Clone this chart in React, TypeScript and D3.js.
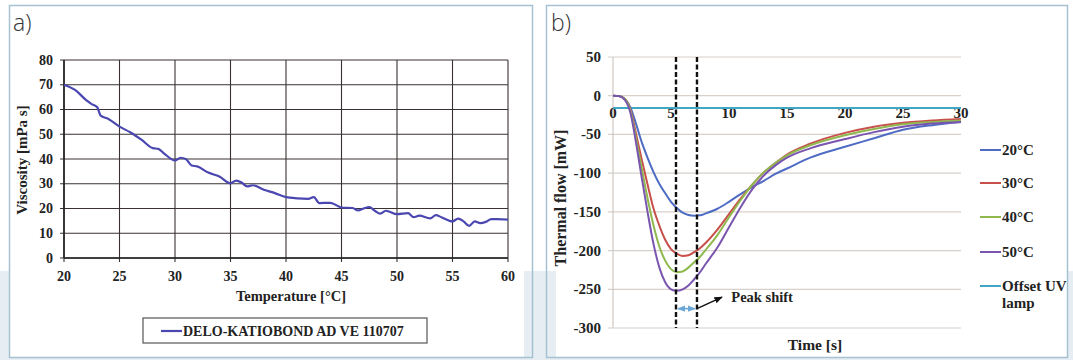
import React from "react";
import * as d3 from "d3";

// panel a: viscosity vs temperature
const viscTemp = [20, 21, 22, 22.5, 23, 23.3, 24, 25, 26, 27, 28, 28.5, 29, 30, 30.5, 31, 31.5, 32, 33, 34, 35, 35.5, 36, 36.5, 37, 38, 39, 40, 41, 42, 42.5, 43, 44, 45, 46, 46.5, 47, 47.5, 48, 48.5, 49, 50, 51, 51.5, 52, 53, 53.5, 54, 55, 55.5, 56, 56.5, 57, 57.5, 58, 58.5, 59, 60];
const viscosity = [70, 67.9, 63.8, 62.2, 60.9, 57.5, 56.2, 53.1, 50.7, 47.7, 44.4, 44.1, 42.3, 39.4, 40.5, 39.9, 37.4, 37, 34.5, 32.9, 30.2, 31.3, 30.5, 28.9, 29.4, 27.6, 26.2, 24.6, 24.1, 23.9, 24.6, 22.2, 22.3, 20.4, 20.2, 19.2, 20, 20.6, 19.1, 17.9, 19.1, 17.7, 18.1, 16.5, 17.1, 16, 17.3, 16.5, 14.8, 15.9, 14.8, 13, 14.8, 14.1, 14.6, 15.7, 15.7, 15.5];
const tempTicks = [20, 25, 30, 35, 40, 45, 50, 55, 60];
const viscTicks = [0, 10, 20, 30, 40, 50, 60, 70, 80];
const viscLegend = "DELO-KATIOBOND AD VE 110707";

// panel b: thermal flow vs time
const time = [0, 0.5, 1, 1.5, 2, 2.5, 3, 3.5, 4, 4.5, 5, 5.5, 6, 6.5, 7, 7.5, 8, 9, 10, 11, 12, 13, 14, 15, 17, 20, 22.5, 25, 27.5, 30];
const flow20 = [0, -0.5, -4, -15, -37, -61, -81, -99, -114, -126, -137, -145, -151, -154, -155, -154.5, -152, -146, -137, -127, -118, -110, -101, -94, -80, -66, -55, -44, -38, -34];
const flow30 = [0, -0.5, -4, -18, -50, -84, -116, -146, -168, -186, -198, -204, -207, -206, -202, -197, -190, -173, -153, -133, -115, -99, -87, -76, -62, -48, -40, -35, -32, -30];
const flow40 = [0, -0.5, -4, -19, -56, -96, -134, -168, -195, -213, -224, -228, -227, -222, -215, -208, -199, -180, -157, -135, -115, -99, -87, -77, -64, -51, -43, -37, -34, -32];
const flow50 = [0, -0.5, -5, -22, -62, -108, -152, -192, -222, -241, -250, -252, -250, -245, -237, -228, -217, -196, -170, -144, -121, -103, -90, -80, -68, -56, -47, -40, -36, -34];
const uvOffset = -16;
const seriesNames = ["20°C", "30°C", "40°C", "50°C"];
const seriesColors = ["#4f6cc4", "#c8504b", "#8fb84e", "#7a55b0"];
const uvColor = "#3fa7c4";
const timeTicks = [0, 5, 10, 15, 20, 25, 30];
const flowTicks = [50, 0, -50, -100, -150, -200, -250, -300];
const peakTimes = [5.43, 7.24];

const serif = "'Liberation Serif', 'Times New Roman', serif";
const sans = "'Open Sans', 'Liberation Sans', sans-serif";

export default function App() {
  const xA = d3.scaleLinear().domain([20, 60]).range([64, 508]);
  const yA = d3.scaleLinear().domain([0, 80]).range([258, 60]);
  const lineA = d3
    .line<number>()
    .x((_, i) => xA(viscTemp[i]))
    .y((d) => yA(d))
    .curve(d3.curveMonotoneX);

  const xB = d3.scaleLinear().domain([0, 30]).range([613, 961]);
  const yB = d3.scaleLinear().domain([-300, 50]).range([328, 57]);
  const lineB = d3
    .line<number>()
    .x((_, i) => xB(time[i]))
    .y((d) => yB(d))
    .curve(d3.curveMonotoneX);
  const flows = [flow20, flow30, flow40, flow50];
  const legendY = [150, 183, 217, 252];

  return (
    <div style={{ position: "absolute", left: 0, top: 0 }}>
      <svg width={1073} height={360} style={{ display: "block" }}>
        <defs>
          <marker id="ah" viewBox="0 0 10 10" refX="9" refY="5" markerWidth="6" markerHeight="6" orient="auto">
            <path d="M0,1 L10,5 L0,9 z" fill="#111" />
          </marker>
          <marker id="ab" viewBox="0 0 10 10" refX="9" refY="5" markerWidth="5" markerHeight="5" orient="auto-start-reverse">
            <path d="M0,1 L10,5 L0,9 z" fill="#6aa6d6" />
          </marker>
        </defs>
        <rect x={0} y={0} width={1073} height={360} fill="#fff" />
        <rect x={0} y={271} width={1073} height={89} fill="#e7eef3" />
        <rect x={10} y={6} width={514} height={351} fill="#fff" />
        <rect x={556} y={6} width={511} height={351} fill="#fff" />
        <rect x={9.5} y={5.5} width={523} height={352} fill="none" stroke="#a6c2d2" strokeWidth={1.5} />
        <rect x={546.5} y={5.5} width={521} height={352} fill="none" stroke="#a6c2d2" strokeWidth={1.5} />

        {/* panel a */}
        <text x={13} y={31} fontFamily={sans} fontWeight={300} fontSize={23} fill="#333">a)</text>
        {viscTicks.map((t) => (
          <g key={"ya" + t}>
            <line x1={60} x2={xA(60)} y1={yA(t)} y2={yA(t)} stroke="#3a3232" strokeWidth={1.1} />
            <text x={53} y={yA(t) + 4.5} textAnchor="end" fontFamily={serif} fontWeight="bold" fontSize={14} fill="#222">{t}</text>
          </g>
        ))}
        {tempTicks.map((t) => (
          <g key={"xa" + t}>
            <line x1={xA(t)} x2={xA(t)} y1={yA(80)} y2={yA(0) + 4} stroke="#3a3232" strokeWidth={1.1} />
            <text x={xA(t)} y={281} textAnchor="middle" fontFamily={serif} fontWeight="bold" fontSize={14} fill="#222">{t}</text>
          </g>
        ))}
        <line x1={xA(20)} x2={xA(20)} y1={yA(80)} y2={yA(0)} stroke="#222" strokeWidth={1.6} />
        <line x1={xA(20)} x2={xA(60)} y1={yA(0)} y2={yA(0)} stroke="#222" strokeWidth={1.6} />
        <path d={lineA(viscosity) || ""} fill="none" stroke="#4b47b0" strokeWidth={2.2} strokeLinejoin="round" />
        <text x={291} y={301} textAnchor="middle" fontFamily={serif} fontWeight="bold" fontSize={14.5} fill="#222">Temperature [°C]</text>
        <text transform="translate(27,160) rotate(-90)" textAnchor="middle" fontFamily={serif} fontWeight="bold" fontSize={15} fill="#222">Viscosity [mPa s]</text>
        <rect x={143} y={318} width={284} height={25} fill="#fff" stroke="#555" strokeWidth={1.2} />
        <line x1={161} x2={182} y1={331} y2={331} stroke="#4b47b0" strokeWidth={2.2} />
        <text x={183} y={336} fontFamily={serif} fontWeight="bold" fontSize={14} fill="#222">{viscLegend}</text>

        {/* panel b */}
        <text x={551} y={31} fontFamily={sans} fontWeight={300} fontSize={23} fill="#333">b)</text>
        {flowTicks.map((t) => (
          <g key={"yb" + t}>
            <line x1={608} x2={xB(30)} y1={yB(t)} y2={yB(t)} stroke="#d8d0ca" strokeWidth={1.2} />
            <text x={601} y={yB(t) + 5} textAnchor="end" fontFamily={serif} fontWeight="bold" fontSize={15} fill="#222">{t}</text>
          </g>
        ))}
        <line x1={xB(0)} x2={xB(0)} y1={yB(50)} y2={yB(-300)} stroke="#d0c8c2" strokeWidth={1.2} />
        {timeTicks.map((t) => (
          <text key={"xb" + t} x={xB(t)} y={118} textAnchor="middle" fontFamily={serif} fontWeight="bold" fontSize={15} fill="#222">{t}</text>
        ))}
        <line x1={xB(0)} x2={xB(30)} y1={yB(uvOffset)} y2={yB(uvOffset)} stroke={uvColor} strokeWidth={2} />
        {flows.map((f, i) => (
          <path key={"f" + i} d={lineB(f) || ""} fill="none" stroke={seriesColors[i]} strokeWidth={2} />
        ))}
        {peakTimes.map((t) => (
          <line key={"pk" + t} x1={xB(t)} x2={xB(t)} y1={yB(50)} y2={yB(-300)} stroke="#111" strokeWidth={2.4} strokeDasharray="5,2.5" />
        ))}
        <line x1={xB(peakTimes[0]) + 2} x2={xB(peakTimes[1]) - 2} y1={yB(-275)} y2={yB(-275)} stroke="#6aa6d6" strokeWidth={1.6} markerStart="url(#ab)" markerEnd="url(#ab)" />
        <line x1={xB(peakTimes[1])} x2={xB(9.4)} y1={yB(-275)} y2={yB(-260)} stroke="#111" strokeWidth={1.4} markerEnd="url(#ah)" />
        <text x={xB(10.2)} y={yB(-267)} fontFamily={serif} fontWeight="bold" fontSize={14.5} fill="#222">Peak shift</text>
        <text x={815} y={350} textAnchor="middle" fontFamily={serif} fontWeight="bold" fontSize={15.5} fill="#222">Time [s]</text>
        <text transform="translate(566,198) rotate(-90)" textAnchor="middle" fontFamily={serif} fontWeight="bold" fontSize={16} fill="#222">Thermal flow [mW]</text>

        {seriesNames.map((n, i) => (
          <g key={"lg" + n}>
            <line x1={980} x2={1001} y1={legendY[i]} y2={legendY[i]} stroke={seriesColors[i]} strokeWidth={2} />
            <text x={1002} y={legendY[i] + 5} fontFamily={serif} fontWeight="bold" fontSize={15} fill="#222">{n}</text>
          </g>
        ))}
        <line x1={980} x2={1001} y1={286} y2={286} stroke={uvColor} strokeWidth={2} />
        <text x={1002} y={291} fontFamily={serif} fontWeight="bold" fontSize={15} fill="#222">Offset UV</text>
        <text x={1002} y={308} fontFamily={serif} fontWeight="bold" fontSize={15} fill="#222">lamp</text>
      </svg>
    </div>
  );
}
